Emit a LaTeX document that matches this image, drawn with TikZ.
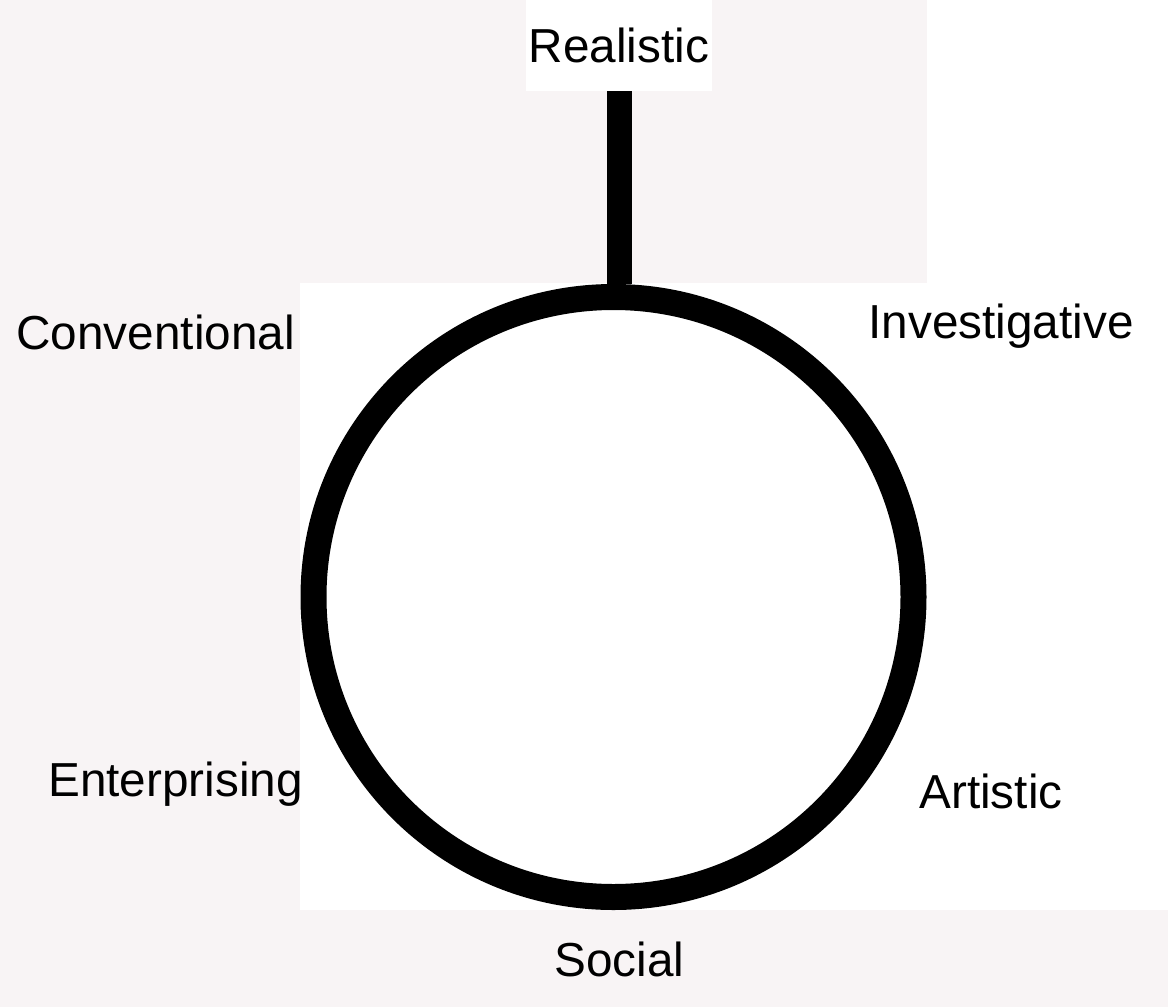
\documentclass[tikz,border=0pt]{standalone}
\usepackage{fontspec}
\setmainfont{Liberation Sans}
\usepackage{xcolor}
\definecolor{bgpink}{RGB}{248, 244, 245}
\usetikzlibrary{positioning, calc}
\tikzset{
  traitlabel/.style={font=\fontsize{23.85}{28}\selectfont, inner sep=0pt, anchor=base west},
}

\begin{document}
\begin{tikzpicture}[x=0.5pt, y=-0.5pt]
  % Background panels
  \fill[bgpink] (0,0) rectangle (1168,1007);
  \fill[white] (300,283) rectangle (1168,910);
  \fill[white] (927,0) rectangle (1168,283);
  \useasboundingbox (0,0) rectangle (1168,1007);

  % Ring and stem
  \node[circle, draw=black, line width=13pt, fill=white, inner sep=0pt,
        minimum size=300pt] (ring) at (613.5,597) {};
  \node[fill=white, inner sep=0pt, minimum width=93pt, minimum height=45.5pt,
        font=\fontsize{23.85}{28}\selectfont] (real) at (619,45.5) {Realistic};
  \draw[line width=12.5pt] (real.south) -- (real.south |- ring.north);

  % Labels round the ring
  \node[traitlabel] (conv) at (16,349) {Conventional};
  \node[traitlabel] (inv) at (868,338) {Investigative};
  \node[traitlabel] (ent) at (48,796) {Enterprising};
  \node[traitlabel] (art) at (919,808) {Artistic};
  \node[traitlabel] (soc) at (554,976) {Social};
\end{tikzpicture}
\end{document}
